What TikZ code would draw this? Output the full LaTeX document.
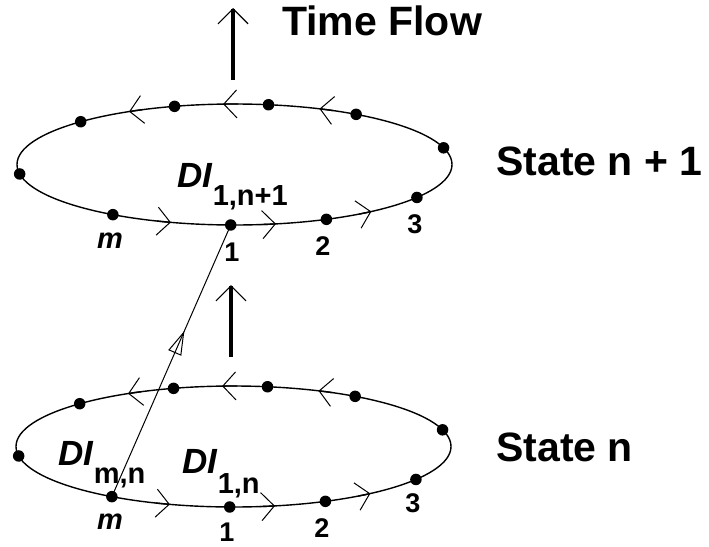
\documentclass[tikz,border=0pt]{standalone}
\usepackage{fontspec}
\setmainfont{Liberation Sans}
\usetikzlibrary{arrows.meta,decorations.markings,calc}
\tikzset{
 dot/.style={circle,fill=black,inner sep=0pt,minimum size=11.5pt},
 orbit/.style={line width=1.4pt},
 chev/.style={line width=1.4pt,-{Straight Barb[length=13pt,width=28pt,line width=1pt]}},
 flow/.style={line width=3.5pt,-{Straight Barb[length=15pt,width=30pt,line width=1.2pt]}},
 lbl/.style={font=\fontsize{27}{27}\selectfont\bfseries,inner sep=0pt},
 big/.style={font=\fontsize{41}{41}\selectfont\bfseries,inner sep=0pt,anchor=base west},
 di/.style={font=\fontsize{35}{35}\selectfont\bfseries,inner sep=0pt,anchor=base west},
 link/.style={line width=1pt, postaction={decorate}, decoration={markings, mark=at position 0.61 with {\arrow{Triangle[open,length=24pt,width=14pt,line width=1pt]}}}},
}
\newcommand{\subtxt}[2]{\raisebox{-#1pt}{\fontsize{29}{29}\selectfont #2}}
\begin{document}
\begin{tikzpicture}[x=1pt,y=1pt]
\useasboundingbox (0,0) rectangle (709,-546);
\coordinate (U) at (234.5,-164.5);
\coordinate (L) at (233.5,-446.5);
\foreach \c/\p in {U/u,L/l}{
  \draw[orbit] (\c) ellipse [x radius=217.5, y radius=60.5];
  \foreach \a in {119,93,67,-107,-79,-51}{
    \pgfmathsetmacro\b{\a-4}
    \draw[chev] ($(\c)+(\b:217.5 and 60.5)$) arc[start angle=\b, end angle=\a, x radius=217.5, y radius=60.5];
  }
  \foreach \a/\n in {189/a,135/b,106/c,81/d,56/e,16/f,-33/3,-65/2,-91/1,-124/m}{
    \node[dot] (\p\n) at ($(\c)+(\a:217.5 and 60.5)$) {};
  }
}
% labels upper
\node[lbl,font=\fontsize{29}{29}\selectfont\bfseries\itshape] (uml) at (110,-241) {m};
\node[lbl] (u1l) at (232,-252) {1};
\node[lbl] (u2l) at (323,-246) {2};
\node[lbl] (u3l) at (415,-224) {3};
% labels lower
\node[lbl,font=\fontsize{29}{29}\selectfont\bfseries\itshape] (lml) at (110,-522) {m};
\node[lbl] (l1l) at (227,-532) {1};
\node[lbl] (l2l) at (322,-528) {2};
\node[lbl] (l3l) at (413,-503) {3};
% DI labels
\node[di] (udi) at (177,-187) {\textit{DI}\subtxt{18}{1,n+1}};
\node[di] (lmdi) at (58,-465) {\textit{DI}\subtxt{18}{m,n}};
\node[di] (l1di) at (182,-473) {\textit{DI}\subtxt{20}{1,n}};
% state labels
\node[big] (tf) at (282,-35) {Time Flow};
\node[big] (sn1) at (496,-175) {State n + 1};
\node[big] (sn) at (496,-461) {State n};
% arrows
\coordinate (tfa) at (233,-80);
\coordinate (tfb) at (233,-8);
\draw[flow] (tfa) -- (tfb);
\coordinate (ma) at (231,-357);
\coordinate (mb) at (231,-285);
\draw[flow,line width=4pt] (ma) -- (mb);
\draw[link] (lm.center) -- (u1.center);
\end{tikzpicture}
\end{document}
